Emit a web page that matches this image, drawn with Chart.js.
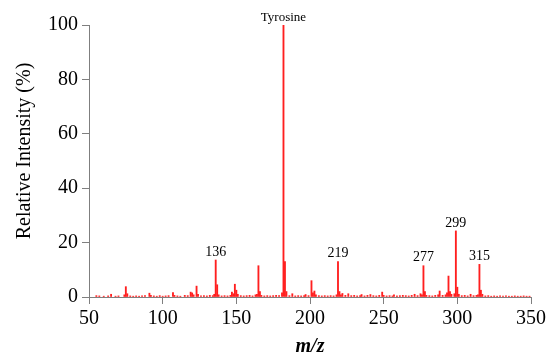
<!DOCTYPE html>
<html>
<head>
<meta charset="utf-8">
<script src="https://cdn.jsdelivr.net/npm/chart.js@4/dist/chart.umd.min.js"></script>
<style>
  html, body { margin: 0; padding: 0; background: #fff; }
  #wrap { width: 549px; height: 355px; }
</style>
</head>
<body>
<div id="wrap"><canvas id="spectrum"></canvas></div>
<script>
// ---------- data ----------
const mzValues = [
  55, 57, 60, 63, 65, 68, 70, 74, 75, 76, 78, 80, 82, 84, 86, 88, 91, 92, 94, 96,
  98, 100, 102, 104, 107, 108, 110, 112, 115, 117, 119, 120, 121, 123, 124, 126, 128, 130, 132, 134,
  135, 136, 137, 138, 140, 142, 144, 146, 147, 148, 149, 150, 151, 153, 155, 157, 159, 161, 163, 164,
  165, 166, 167, 169, 171, 173, 175, 177, 179, 181, 182, 183, 184, 186, 188, 190, 192, 194, 196, 197,
  199, 201, 202, 203, 204, 206, 208, 210, 212, 214, 216, 218, 219, 220, 221, 222, 224, 226, 228, 230,
  232, 234, 235, 237, 239, 241, 243, 245, 247, 249, 250, 252, 254, 256, 257, 259, 261, 263, 265, 267,
  269, 271, 273, 275, 276, 277, 278, 279, 281, 283, 285, 287, 288, 290, 292, 293, 294, 295, 296, 298,
  299, 300, 301, 303, 305, 307, 309, 311, 313, 314, 315, 316, 317, 319, 321, 323, 325, 327, 329, 331,
  333, 335, 337, 339, 341, 343, 345, 347, 349
];
const intensity = [
  0.5, 0.4, 0.3, 0.4, 1.0, 0.3, 0.4, 0.8, 3.8, 1.2, 0.4, 0.3, 0.4, 0.3, 0.4, 0.5, 1.4, 0.6, 0.4, 0.3,
  0.5, 0.3, 0.4, 0.5, 1.6, 0.6, 0.4, 0.3, 0.6, 0.5, 1.8, 1.5, 0.8, 4.0, 1.0, 0.4, 0.5, 0.4, 0.6, 0.5,
  1.0, 13.6, 4.5, 0.8, 0.4, 0.5, 0.4, 0.6, 1.8, 1.2, 4.7, 2.5, 1.0, 0.5, 0.4, 0.5, 0.6, 0.4, 0.8, 1.0,
  11.5, 2.0, 0.6, 0.4, 0.5, 0.4, 0.5, 0.6, 0.5, 1.5, 100, 13, 2.0, 0.5, 1.2, 0.4, 0.5, 0.4, 0.5, 0.9,
  0.5, 6.0, 1.5, 2.2, 0.8, 0.5, 0.4, 0.5, 0.4, 0.5, 0.4, 0.8, 13, 2.0, 0.8, 1.3, 0.6, 1.2, 0.5, 0.6,
  0.4, 0.5, 0.9, 0.4, 0.6, 0.9, 0.5, 0.4, 0.6, 1.8, 0.6, 0.4, 0.5, 0.4, 0.8, 0.4, 0.5, 0.6, 0.5, 0.4,
  0.6, 1.0, 0.5, 1.2, 0.8, 11.5, 2.0, 0.6, 0.5, 0.4, 0.6, 0.8, 2.2, 0.6, 0.8, 1.5, 7.7, 2.0, 1.0, 1.2,
  24.3, 3.6, 1.0, 0.5, 0.6, 0.4, 1.0, 0.5, 0.6, 0.8, 12, 2.5, 1.0, 0.4, 0.5, 0.3, 0.4, 0.3, 0.4, 0.3,
  0.4, 0.3, 0.3, 0.4, 0.3, 0.3, 0.4, 0.3, 0.3
];
const labelMz = [136, 182, 219, 277, 299, 315];
const labelText = ['136', 'Tyrosine', '219', '277', '299', '315'];
const xTicks = [50, 100, 150, 200, 250, 300, 350];
const yTicks = [0, 20, 40, 60, 80, 100];
const xTitle = 'm/z';
const yTitle = 'Relative Intensity (%)';

const points = mzValues.map((mz, i) => ({ x: mz, y: intensity[i] }));
const serif = 'Liberation Serif';
const axisGray = '#7f7f7f';

/* -----------peak labels + axis titles------------- */
const annotations = {
  id: 'annotations',
  afterDatasetsDraw(chart) {
    const { ctx, scales, chartArea } = chart;
    ctx.save();
    ctx.fillStyle = '#000';
    ctx.textAlign = 'center';
    ctx.textBaseline = 'bottom';
    labelMz.forEach((mz, i) => {
      const h = intensity[mzValues.indexOf(mz)];
      ctx.font = (labelText[i] === 'Tyrosine' ? '13px ' : '14px ') + serif;
      ctx.fillText(labelText[i], scales.x.getPixelForValue(mz), scales.y.getPixelForValue(h) - 1);
    });

    ctx.textBaseline = 'alphabetic';
    ctx.font = 'italic bold 20px ' + serif;
    ctx.fillText(xTitle, (chartArea.left + chartArea.right) / 2, 352);

    ctx.font = '20px ' + serif;
    ctx.translate(30, 151);
    ctx.rotate(-Math.PI / 2);
    ctx.fillText(yTitle, 0, 0);
    ctx.restore();
  }
};

var ctx = document.getElementById('spectrum').getContext('2d');
var chart = new Chart(ctx, {
  type: 'bar',
  data: {
    datasets: [{
      data: points,
      backgroundColor: '#ff1f1f',
      borderWidth: 0,
      barThickness: 1.2
    }]
  },
  options: {
    responsive: true,
    maintainAspectRatio: false,
    animation: false,
    layout: { padding: { top: 25, right: 18, bottom: 0, left: 0 } },
    plugins: { legend: { display: false }, tooltip: { enabled: false } },
    scales: {
      x: {
        type: 'linear',
        min: 50,
        max: 350,
        offset: false,
        afterBuildTicks: s => { s.ticks = xTicks.map(v => ({ value: v })); },
        afterFit: s => { s.height = 58; },
        grid: { display: true, drawOnChartArea: false, offset: false, tickLength: 7, color: axisGray },
        border: { color: axisGray },
        ticks: { color: '#000', font: { family: serif, size: 20 }, padding: 3, maxRotation: 0 }
      },
      y: {
        min: 0,
        max: 100,
        afterBuildTicks: s => { s.ticks = yTicks.map(v => ({ value: v })); },
        afterFit: s => { s.width = 89; },
        grid: { display: true, drawOnChartArea: false, tickLength: 7, color: axisGray },
        border: { color: axisGray },
        ticks: { color: '#000', font: { family: serif, size: 20 }, padding: 4 }
      }
    }
  },
  plugins: [annotations]
});
</script>
</body>
</html>
